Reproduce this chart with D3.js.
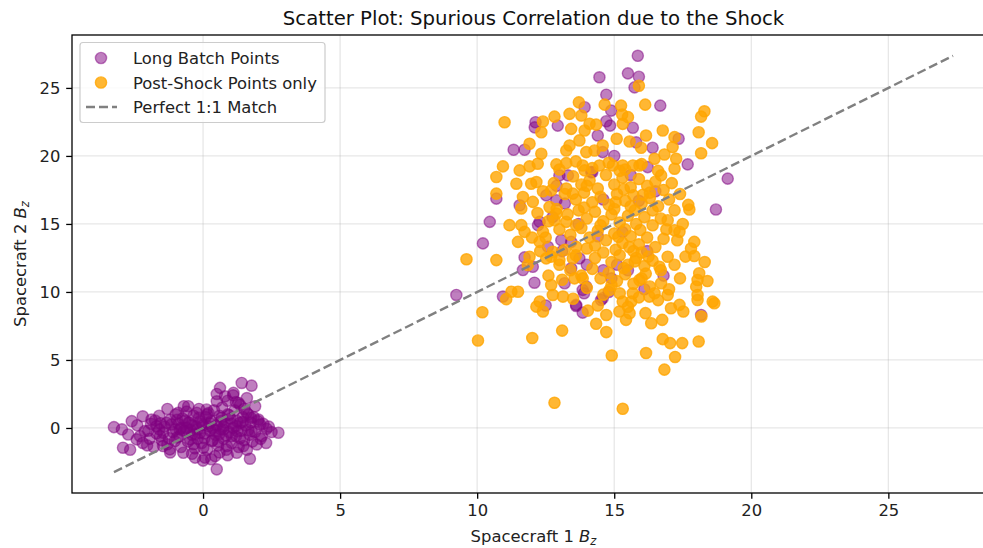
<!DOCTYPE html>
<html>
<head>
<meta charset="utf-8">
<script src="https://cdn.jsdelivr.net/npm/d3@7"></script>
<style>
  body { margin: 0; background: #fff; }
  svg { display: block; font-family: "DejaVu Sans", sans-serif; }
</style>
</head>
<body>
<svg id="chart" width="983" height="548"></svg>
<script>
// Long batch: quiet pre-shock cluster near zero plus the shocked interval
const longBatchPoints = [
  [-3.25,0.06],[-2.96,-0.1],[-2.92,-1.45],[-2.66,-1.6],[-2.6,0.5],[-2.73,-0.48],[-2.42,-0.84],[-2.2,0.86],
  [-2.13,-0.23],[-2.04,-1.28],[-1.88,0.62],[-1.7,0.13],[-1.57,-0.6],[-1.46,-1.33],[-1.33,0.38],[-1.21,-1.57],
  [-1.03,-0.97],[-0.91,1.11],[-0.85,-0.11],[-0.72,-1.82],[-0.54,1.6],[-0.54,0.38],[-0.47,-0.84],[-0.29,-2.18],
  [-0.23,1.11],[-0.11,-0.35],[0.01,-1.45],[0.07,-2.18],[0.13,1.36],[0.19,0.13],[0.32,-0.97],[0.44,-2.07],
  [0.5,1.96],[0.5,-3.04],[0.62,2.95],[0.68,0.75],[0.74,-0.11],[0.8,2.33],[0.87,-1.33],[1.05,-0.6],
  [1.11,2.58],[1.23,-1.82],[1.29,1.85],[1.35,0.38],[1.41,3.31],[1.47,-1.33],[1.59,1.11],[1.71,-2.26],
  [1.77,3.11],[1.77,-0.23],[1.96,-1.21],[2.02,0.62],[2.08,0.26],[2.32,-0.06],[2.75,-0.35],[2.14,-0.6],
  [-1.9,0.3],[-1.7,-0.4],[-1.6,0.9],[-1.5,-0.9],[-1.4,0.1],[-1.3,-1.2],[-1.2,0.6],[-1.1,-0.3],
  [-1.0,1.0],[-0.95,-0.7],[-0.9,0.3],[-0.8,-1.4],[-0.75,0.7],[-0.7,-0.2],[-0.6,1.2],[-0.55,-1.0],
  [-0.5,0.4],[-0.4,-0.5],[-0.35,0.9],[-0.3,-1.5],[-0.25,0.1],[-0.2,-0.8],[-0.15,1.4],[-0.1,0.5],
  [-0.05,-1.1],[0.0,0.2],[0.05,-0.4],[0.1,0.8],[0.15,-1.6],[0.2,1.1],[0.25,-0.2],[0.3,0.5],
  [0.35,-0.9],[0.4,1.3],[0.45,-0.5],[0.5,0.2],[0.55,-1.3],[0.6,0.9],[0.65,-0.1],[0.7,1.5],
  [0.75,-0.8],[0.8,0.4],[0.85,-1.6],[0.9,1.0],[0.95,-0.3],[1.0,0.7],[1.05,-1.1],[1.1,0.0],
  [1.15,1.3],[1.2,-0.6],[1.25,0.5],[1.3,-1.4],[1.35,1.7],[1.4,-0.2],[1.45,0.8],[1.5,-0.9],
  [1.55,0.2],[1.6,-1.6],[1.65,1.0],[1.7,-0.5],[1.75,0.4],[1.8,-1.0],[1.85,0.8],[1.9,-0.3],
  [2.0,0.5],[2.1,-0.8],[2.2,0.3],[2.3,-1.1],[2.4,0.1],[2.5,-0.3],[-2.4,0.2],[-2.3,-0.6],
  [-2.2,-1.1],[-2.0,-0.2],[-1.8,-1.4],[-1.6,-0.1],[-1.2,-1.8],[-1.0,-0.1],[-0.8,0.0],[-0.6,-0.3],
  [-0.4,0.2],[-0.2,-0.1],[0.3,-2.3],[0.6,-1.8],[0.9,-2.0],[1.2,1.9],[1.5,1.4],[0.9,2.0],
  [1.9,1.6],[-1.3,1.4],[-0.7,1.6],[0.5,2.5],[1.1,2.4],[1.6,2.2],[-1.95,-0.8],[0.0,-2.4],[-0.4,-1.9],
  [-1.75,0.55],[-1.45,-0.35],[-1.15,0.25],[-0.85,-0.6],[-0.65,0.55],[-0.45,-0.15],[-0.15,0.75],[0.05,-0.75],
  [0.25,0.35],[0.45,-0.2],[0.65,0.5],[0.85,-0.55],[1.05,0.3],[1.25,-0.25],[1.45,0.45],[1.65,-0.15],
  [-1.25,-0.75],[-0.95,0.6],[-0.35,-1.2],[0.15,1.0],[0.55,-1.0],[0.95,0.95],[1.35,-0.75],[1.75,0.75],
  [-0.6,0.0],[0.35,0.0],[1.2,0.15],[-1.55,0.35],[-0.05,0.3],[0.75,0.1],[-0.3,-0.45],[0.6,-0.45],
  [14.46,25.78],[13.92,23.58],[12.13,22.48],[12.94,22.23],[11.33,20.45],[11.73,20.45],[13.0,18.57],[13.31,18.57],
  [14.16,18.81],[15.86,27.36],[15.5,26.07],[15.9,25.82],[15.74,25.04],[14.71,24.5],[16.68,23.7],
  [14.89,23.33],[14.71,22.55],[14.85,22.23],[15.68,22.07],[17.35,21.26],[14.58,20.28],[17.68,19.38],[19.14,18.33],
  [16.22,19.18],[10.7,16.86],[11.55,16.37],[12.52,17.1],[12.89,16.74],[10.46,15.15],[12.28,15.15],[12.22,14.91],
  [10.21,13.57],[12.58,13.32],[13.07,13.81],[13.43,13.68],[11.73,12.54],[12.03,11.85],[13.43,11.74],[13.73,12.47],
  [11.67,11.61],[12.09,10.68],[13.19,10.64],[13.98,10.39],[9.24,9.78],[10.94,9.66],[13.61,9.05],[18.71,16.06],
  [14.58,9.54],[13.85,10.15],[13.61,8.97],[13.85,8.48],[14.52,9.41],[18.17,8.31],
  [14.6,16.8],[15.3,14.4],[14.0,12.0],[13.7,15.0],[15.9,16.7],[16.2,13.0],[14.8,10.0],[15.5,11.6],
  [13.2,16.5],[16.5,17.4],[14.2,18.8],[15.0,20.0],[15.8,21.0],[14.4,21.5],[12.9,17.8],[13.1,13.0],
  [16.8,11.2],[15.1,12.0],[14.4,14.1],[15.6,18.6],[13.9,9.9],[16.1,10.2],[12.5,9.0],[16.4,20.6],
  [12.1,22.1],[12.75,15.5],[14.6,11.6],[14.9,11.0]
];

// Post-shock interval only
const postShockPoints = [
  [13.71,23.94],[11.0,22.48],[12.4,22.53],[12.82,22.89],[13.37,23.09],[13.8,22.97],[12.34,21.74],[13.43,21.99],
  [14.1,22.36],[13.92,21.87],[11.91,20.89],[12.34,20.16],[13.37,20.77],[13.25,20.4],[13.73,21.14],
  [13.98,20.28],[14.28,20.4],[10.94,19.23],[11.55,18.94],[11.91,19.23],[12.21,19.43],[12.89,19.38],[13.25,19.47],
  [13.85,19.3],[10.7,18.45],[15.9,25.16],[14.65,23.77],[15.25,23.7],[16.13,23.77],[15.29,23.04],[15.5,22.85],
  [14.34,22.3],[15.31,22.36],[18.29,23.28],[18.17,22.89],[16.77,21.87],[16.16,21.5],[15.09,21.26],[15.56,21.06],
  [17.2,21.38],[18.08,21.74],[18.57,20.94],[14.58,20.77],[15.98,20.6],[17.13,20.65],[18.17,20.2],[16.83,20.11],
  [16.47,19.79],[17.26,19.79],[17.2,19.06],[16.71,18.57],[15.31,19.3],[15.68,19.3],[15.92,19.3],[14.95,19.3],
  [14.46,19.3],[13.92,18.94],[11.43,17.96],[11.97,17.96],[12.16,18.08],[10.7,17.23],[11.67,16.98],[11.61,16.13],
  [12.7,17.47],[13.25,17.6],[13.49,17.23],[12.64,16.25],[12.03,16.62],[11.18,14.91],[11.61,14.91],[11.73,14.42],
  [12.82,15.27],[12.89,15.77],[13.25,15.15],[13.61,14.91],[12.4,14.42],[11.49,13.68],[12.28,13.68],[12.76,12.95],
  [13.61,13.32],[9.61,12.4],[10.7,12.34],[11.91,12.59],[11.85,11.98],[12.52,12.47],[13.0,12.34],[13.49,12.47],
  [12.7,10.51],[12.76,9.78],[13.55,11.0],[13.85,11.0],[11.25,10.02],[11.49,10.02],[11.06,9.47],[12.28,9.29],
  [13.13,9.66],[17.74,16.06],[17.92,13.68],[17.92,12.64],[17.38,14.42],[17.2,14.54],[16.95,15.27],[18.1,11.37],
  [18.04,10.88],[17.99,10.39],[18.04,9.78],[18.59,9.29],[16.95,12.59],[16.65,11.85],[16.71,10.64],[16.95,9.78],
  [15.92,10.88],[15.68,9.9],[14.83,10.15],[16.28,9.66],[16.47,9.9],[10.19,8.51],[10.03,6.43],[12.01,6.61],
  [12.16,8.92],[12.4,8.56],[13.1,7.16],[12.82,1.85],[14.04,8.63],[14.34,7.66],[14.71,8.31],[14.71,7.05],
  [15.19,8.56],[15.56,8.44],[15.43,7.95],[15.31,9.29],[15.62,9.29],[16.14,8.44],[16.35,7.7],[16.75,7.95],
  [17.07,8.8],[17.38,9.05],[17.52,8.56],[18.18,8.19],[18.65,9.17],[18.04,9.41],[16.77,6.53],[17.04,6.24],
  [17.48,6.24],[18.08,6.36],[16.16,5.51],[14.91,5.33],[17.22,5.22],[16.83,4.29],[15.31,1.41],
  [13.5,18.5],[13.8,17.9],[14.1,18.2],[14.4,17.6],[14.7,18.6],[15.0,17.9],[15.3,18.4],[15.6,17.7],
  [15.9,18.3],[16.2,17.8],[16.5,18.1],[16.8,17.5],[13.2,17.2],[13.6,16.8],[13.9,17.3],[14.2,16.6],
  [14.5,17.0],[14.8,16.4],[15.1,17.2],[15.4,16.7],[15.7,17.1],[16.0,16.5],[16.3,16.9],[16.6,16.3],
  [17.0,16.8],[12.9,16.1],[13.3,15.7],[13.7,16.0],[14.0,15.4],[14.3,15.9],[14.6,15.2],[14.9,15.7],
  [15.2,15.1],[15.5,15.6],[15.8,15.0],[16.1,15.5],[16.4,14.9],[16.7,15.4],[13.0,14.6],[13.4,14.2],
  [13.8,14.7],[14.1,14.0],[14.4,14.5],[14.7,13.8],[15.0,14.3],[15.3,13.6],[15.6,14.1],[15.9,13.5],
  [16.2,14.0],[16.5,13.3],[16.8,13.9],[13.2,13.1],[13.6,12.7],[14.0,13.2],[14.3,12.5],[14.6,12.9],
  [14.9,12.2],[15.2,12.7],[15.5,12.0],[15.8,12.5],[16.1,11.9],[16.4,12.3],[16.7,11.6],[13.4,11.6],
  [13.8,11.2],[14.2,11.7],[14.5,11.0],[14.8,11.4],[15.1,10.8],[15.4,11.3],[15.7,10.6],[16.0,11.0],
  [16.3,10.4],[14.0,10.3],[14.6,9.8],[15.2,9.9],[15.9,9.6],[13.1,10.9],[12.6,11.2],[12.3,13.0],
  [12.0,14.0],[12.5,14.0],[12.2,15.8],[12.6,15.2],[12.4,17.4],[12.8,18.0],[13.0,19.0],[13.6,19.6],
  [14.2,19.1],[14.8,19.5],[15.4,19.0],[16.0,19.4],[16.6,18.9],[17.1,18.0],[17.4,17.2],[17.2,16.0],
  [17.5,15.0],[17.3,13.8],[17.6,12.6],[17.2,12.0],[17.4,11.0],[17.0,10.2],[16.6,9.4],[15.5,8.9],
  [14.4,9.0],[13.5,9.5],[15.0,16.1],[14.3,13.4],[15.7,13.0],[13.9,16.2],[16.4,16.0],[15.2,18.9],
  [14.5,14.9],[15.6,16.3],[16.9,14.6],[13.0,12.0],[12.7,12.6],[16.0,12.9],[14.9,10.5],[15.4,14.6],
  [14.0,17.8],[16.3,17.3],[17.7,16.4],[17.8,13.2],[18.3,12.2],[18.4,10.8],
  [15.05,16.6],[15.35,17.55],[15.75,16.0],[16.05,17.15],[15.15,14.05],[15.55,13.3],[15.95,14.55],[16.25,12.6],
  [15.35,11.75],[15.75,12.25],[16.15,11.35],[15.05,13.1]
];

const xTicks = [0, 5, 10, 15, 20, 25];
const yTicks = [0, 5, 10, 15, 20, 25];
const seriesNames = ["Long Batch Points", "Post-Shock Points only", "Perfect 1:1 Match"];
const chartTitle = "Scatter Plot: Spurious Correlation due to the Shock";

const svg = d3.select("#chart");
const plot = { left: 72, right: 995, top: 35, bottom: 493 };
const fontBase = 16.4;
const markerR = 5.6;

// Shared limits: the 1:1 reference line spans the full data range on both axes
const all = longBatchPoints.concat(postShockPoints);
const lo = d3.min(all, d => Math.min(d[0], d[1]));
const hi = d3.max(all, d => Math.max(d[0], d[1]));
const pad = 0.05 * (hi - lo);

const x = d3.scaleLinear().domain([lo - pad, hi + pad]).range([plot.left, plot.right]);
const y = d3.scaleLinear().domain([lo - pad, hi + pad]).range([plot.bottom, plot.top]);

// Grid
const grid = svg.append("g").attr("stroke", "#b0b0b0").attr("stroke-opacity", 0.3).attr("stroke-width", 1.3);
grid.selectAll("line.gx").data(xTicks).join("line")
  .attr("x1", d => x(d)).attr("x2", d => x(d)).attr("y1", plot.top).attr("y2", plot.bottom);
grid.selectAll("line.gy").data(yTicks).join("line")
  .attr("y1", d => y(d)).attr("y2", d => y(d)).attr("x1", plot.left).attr("x2", plot.right);

// Scatter layers
function drawPoints(data, color, alpha) {
  svg.append("g").selectAll("circle").data(data).join("circle")
    .attr("cx", d => x(d[0])).attr("cy", d => y(d[1])).attr("r", markerR)
    .attr("fill", color).attr("fill-opacity", alpha)
    .attr("stroke", color).attr("stroke-opacity", alpha).attr("stroke-width", 1.4);
}
drawPoints(longBatchPoints, "purple", 0.5);
drawPoints(postShockPoints, "orange", 0.8);

// 1:1 line
svg.append("line")
  .attr("x1", x(lo)).attr("y1", y(lo)).attr("x2", x(hi)).attr("y2", y(hi))
  .attr("stroke", "gray").attr("stroke-width", 2.4).attr("stroke-dasharray", "9,4");

// Axes
const xAxis = d3.axisBottom(x).tickValues(xTicks).tickFormat(d3.format("d")).tickSize(5.8).tickPadding(5.8);
const yAxis = d3.axisLeft(y).tickValues(yTicks).tickFormat(d3.format("d")).tickSize(5.8).tickPadding(5.8);
const gx = svg.append("g").attr("transform", `translate(0,${plot.bottom})`).call(xAxis);
const gy = svg.append("g").attr("transform", `translate(${plot.left},0)`).call(yAxis);
[gx, gy].forEach(g => {
  g.select(".domain").remove();
  g.selectAll(".tick line").attr("stroke", "#000").attr("stroke-width", 1.3);
  g.selectAll(".tick text").attr("fill", "#222").style("font-size", fontBase + "px").style("font-family", "DejaVu Sans");
});

// Spines
svg.append("rect")
  .attr("x", plot.left).attr("y", plot.top)
  .attr("width", plot.right - plot.left).attr("height", plot.bottom - plot.top)
  .attr("fill", "none").attr("stroke", "#000").attr("stroke-width", 1.3);

// Title
svg.append("text").attr("x", (plot.left + plot.right) / 2).attr("y", 25)
  .attr("text-anchor", "middle").style("font-size", "19.7px").attr("fill", "#111").text(chartTitle);

// Axis labels with italic B and subscript z
function bzLabel(g, prefix) {
  const t = g.append("text").attr("text-anchor", "middle").style("font-size", fontBase + "px").attr("fill", "#222");
  t.append("tspan").text(prefix);
  t.append("tspan").style("font-style", "italic").text("B");
  t.append("tspan").style("font-style", "italic").style("font-size", "11.5px").attr("dy", 3).text("z");
  return t;
}
bzLabel(svg.append("g").attr("transform", `translate(${(plot.left + plot.right) / 2},542)`), "Spacecraft 1 ");
bzLabel(svg.append("g").attr("transform", `translate(26,${(plot.top + plot.bottom) / 2}) rotate(-90)`), "Spacecraft 2 ");

// Legend
const legend = svg.append("g");
legend.append("rect").attr("x", 80).attr("y", 42.5).attr("width", 245).attr("height", 80)
  .attr("rx", 3).attr("fill", "#fff").attr("fill-opacity", 0.8)
  .attr("stroke", "#cccccc").attr("stroke-width", 1.2);
const rowY = [58, 82.5, 107];
legend.append("circle").attr("cx", 101).attr("cy", rowY[0]).attr("r", markerR)
  .attr("fill", "purple").attr("fill-opacity", 0.5).attr("stroke", "purple").attr("stroke-opacity", 0.5).attr("stroke-width", 1.4);
legend.append("circle").attr("cx", 101).attr("cy", rowY[1]).attr("r", markerR)
  .attr("fill", "orange").attr("fill-opacity", 0.8).attr("stroke", "orange").attr("stroke-opacity", 0.8).attr("stroke-width", 1.4);
legend.append("line").attr("x1", 86).attr("x2", 117).attr("y1", rowY[2]).attr("y2", rowY[2])
  .attr("stroke", "gray").attr("stroke-width", 2.4).attr("stroke-dasharray", "9,4");
legend.selectAll("text.lab").data(seriesNames).join("text")
  .attr("x", 133).attr("y", (d, i) => rowY[i] + 6)
  .style("font-size", fontBase + "px").attr("fill", "#222").text(d => d);
</script>
</body>
</html>
